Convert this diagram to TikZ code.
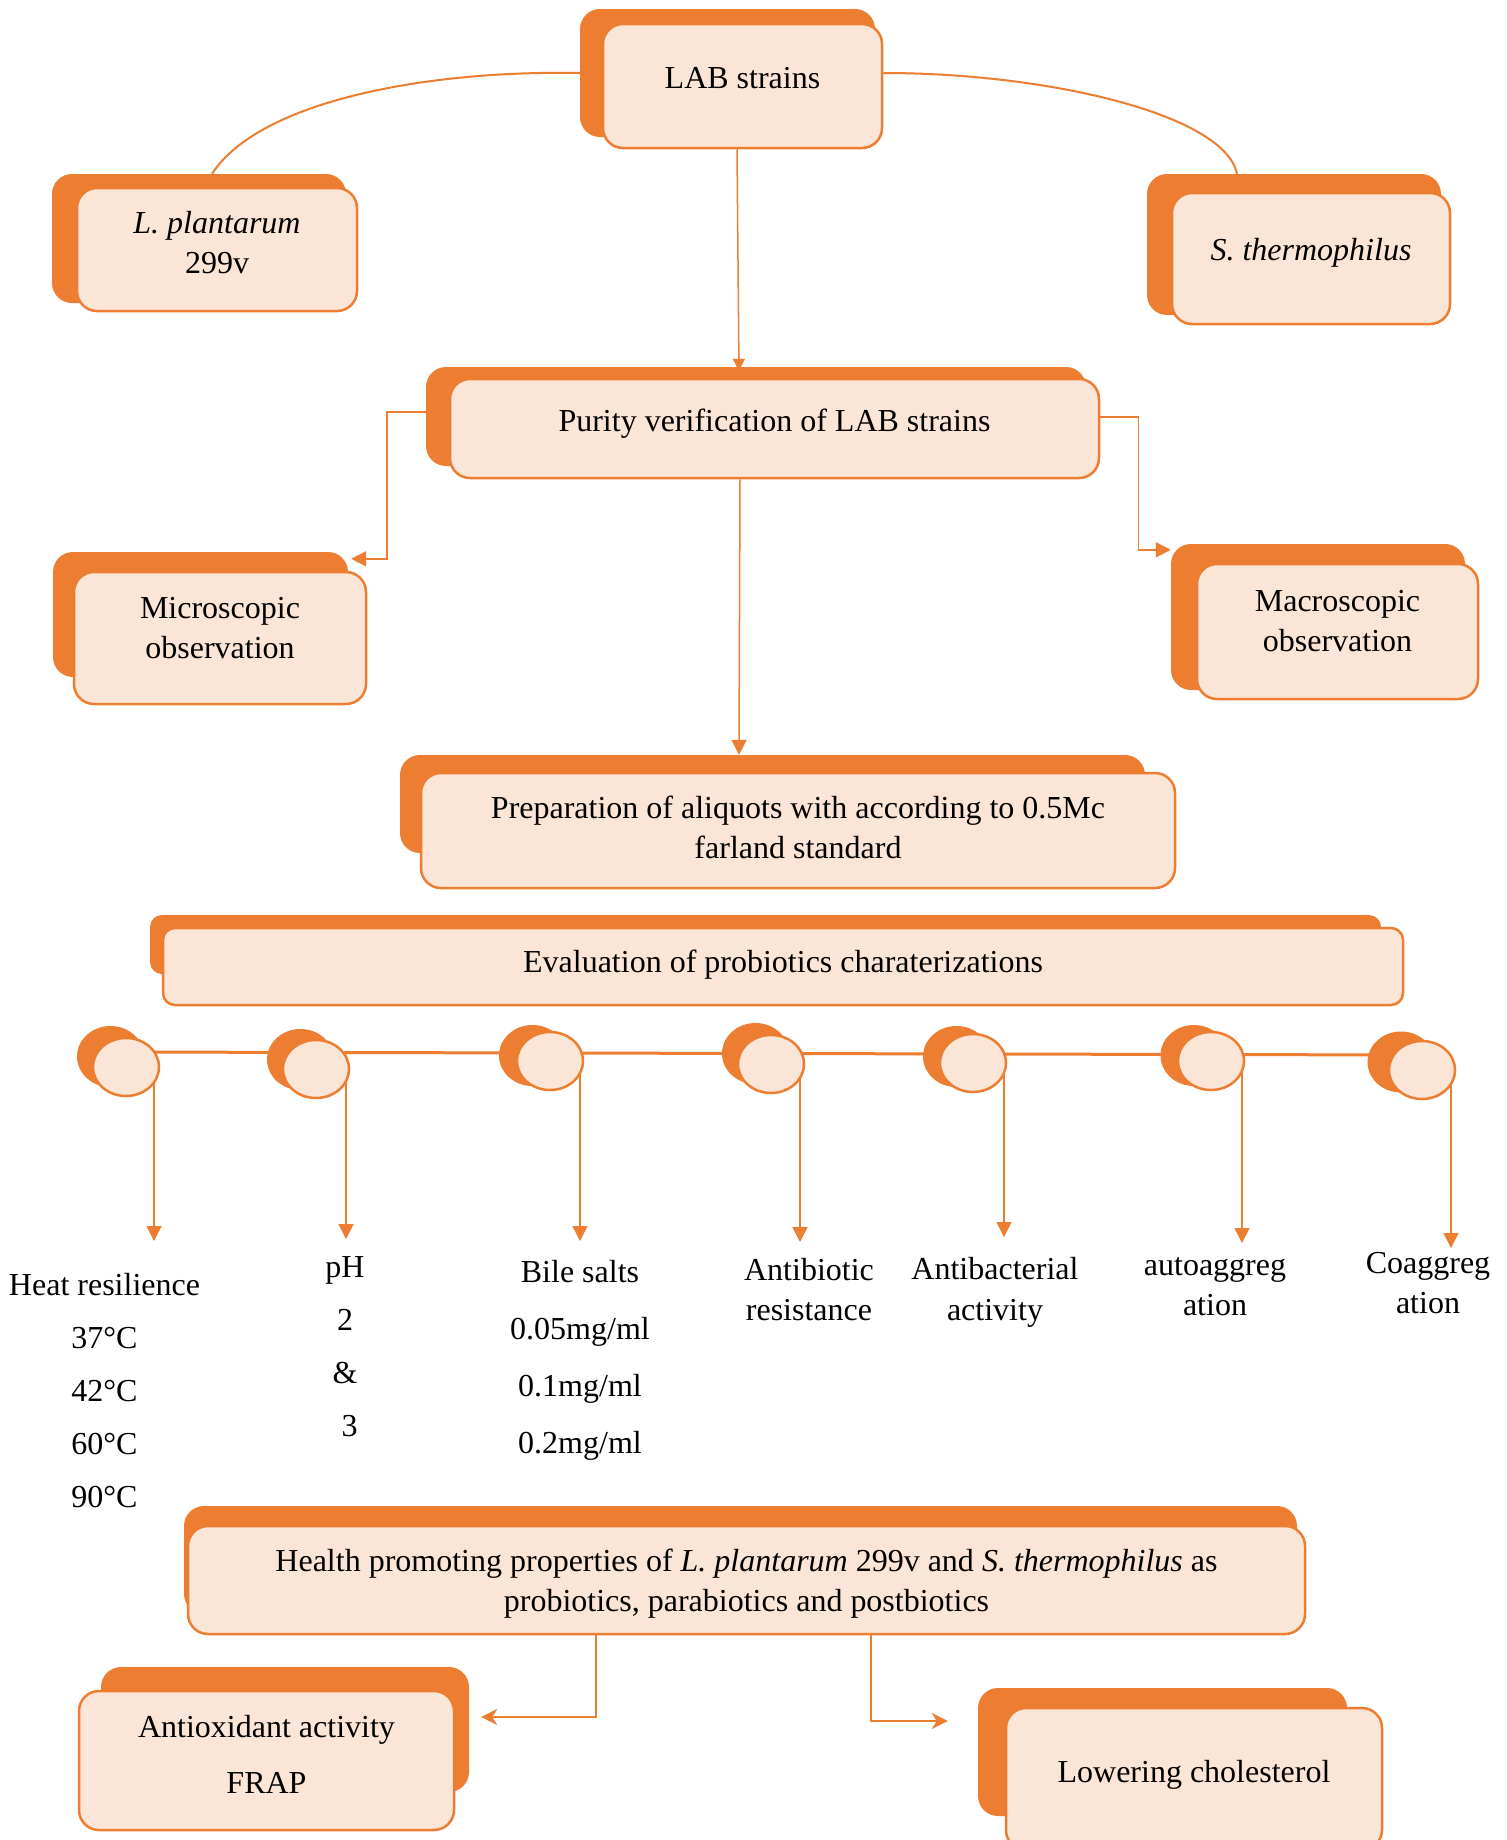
\documentclass[tikz,border=0pt]{standalone}
\usepackage{fontspec}
\setmainfont{Liberation Serif}
\usetikzlibrary{arrows.meta,shapes.geometric,backgrounds,calc}
\definecolor{org}{HTML}{ED7D31}
\definecolor{lite}{HTML}{FBE5D6}
\newcommand\bxt[2]{\raisebox{#1pt}[\height][\depth]{\begin{tabular}{@{}c@{}}#2\end{tabular}}}
\newcommand\lst[1]{\begin{tabular}[t]{@{}c@{}}#1\end{tabular}}
\tikzset{
  shbox/.style={fill=org, draw=none, rounded corners=20pt, inner sep=0pt},
  frbox/.style={fill=lite, draw=org, line width=2.5pt, rounded corners=20pt, inner sep=0pt, text=black, font=\fontsize{32}{40}\selectfont},
  shell/.style={ellipse, fill=org, draw=none, inner sep=0pt, minimum width=67pt, minimum height=61pt},
  frell/.style={ellipse, fill=lite, draw=org, line width=2.5pt, inner sep=0pt, minimum width=66pt, minimum height=58pt},
  conn/.style={draw=org, line width=1.5pt},
  thick conn/.style={draw=org, line width=2.2pt},
  tri/.style={-{Triangle[length=15pt,width=15pt]}},
  smalltri/.style={-{Triangle[length=12pt,width=12pt]}},
  stl/.style={-{Stealth[length=16pt,width=16pt,inset=5pt]}},
  lbl/.style={inner sep=0pt, anchor=base, text=black},
}
\begin{document}
\begin{tikzpicture}[x=1pt,y=-1pt]
\useasboundingbox (0,0) rectangle (1507,1840);
\clip (0,0) rectangle (1507,1840);

% ---------- boxes ----------
\node[shbox, minimum width=295pt, minimum height=128pt] (LABS) at (727.5,73) {};
\node[frbox, minimum width=279pt, minimum height=124pt] (LAB) at (742.5,86) {\bxt{6}{LAB strains}};

\node[shbox, minimum width=294pt, minimum height=129pt] (LpS) at (199,238.5) {};
\node[frbox, minimum width=280pt, minimum height=123pt] (Lp) at (217,249.5) {\bxt{4.5}{\textit{L. plantarum}\\299v}};

\node[shbox, minimum width=294pt, minimum height=141pt] (StS) at (1294,244.5) {};
\node[frbox, minimum width=278pt, minimum height=131pt] (St) at (1311,258.5) {\bxt{6.5}{\textit{S. thermophilus}}};

\node[shbox, minimum width=660pt, minimum height=99pt] (PurS) at (756,416.5) {};
\node[frbox, minimum width=649pt, minimum height=99pt] (Pur) at (774.5,428.5) {\bxt{5.5}{Purity verification of LAB strains}};

\node[shbox, minimum width=295pt, minimum height=125pt] (MicS) at (200.5,614.5) {};
\node[frbox, minimum width=292pt, minimum height=132pt] (Mic) at (220,638) {\bxt{8}{Microscopic\\observation}};

\node[shbox, minimum width=294pt, minimum height=146pt] (MacS) at (1318,617) {};
\node[frbox, minimum width=281pt, minimum height=135pt] (Mac) at (1337.5,631.5) {\bxt{8.5}{Macroscopic\\observation}};

\node[shbox, minimum width=745pt, minimum height=98pt] (PrpS) at (772.5,804) {};
\node[frbox, minimum width=754pt, minimum height=115pt] (Prp) at (798,830.5) {\bxt{0.5}{Preparation of aliquots with according to 0.5Mc\\farland standard}};

\node[shbox, rounded corners=12pt, minimum width=1231pt, minimum height=59pt] (EvS) at (765.5,944.5) {};
\node[frbox, rounded corners=12pt, minimum width=1240pt, minimum height=77pt] (Ev) at (783,966.5) {\bxt{2.5}{Evaluation of probiotics charaterizations}};

\node[shbox, minimum width=1113pt, minimum height=108pt] (HeS) at (740.5,1560) {};
\node[frbox, minimum width=1117pt, minimum height=108pt] (He) at (746.5,1580) {\bxt{-3}{Health promoting properties of \textit{L. plantarum} 299v and \textit{S. thermophilus} as\\probiotics, parabiotics and postbiotics}};

\node[shbox, minimum width=368pt, minimum height=125pt] (AxS) at (285,1729.5) {};
\node[frbox, minimum width=375pt, minimum height=139pt] (Ax) at (266.5,1760.5) {\bxt{3.5}{Antioxidant activity\\[16pt]FRAP}};

\node[shbox, minimum width=369pt, minimum height=128pt] (LwS) at (1162.5,1752) {};
\node[frbox, minimum width=376pt, minimum height=142pt] (Lw) at (1194,1779) {\bxt{5}{Lowering cholesterol}};

% ---------- circles ----------
\node[shell] (s1) at (110.5,1056.5) {};
\node[shell] (s2) at (300.5,1059.5) {};
\node[shell] (s3) at (532.5,1055.5) {};
\node[shell] (s4) at (755.5,1053.5) {};
\node[shell] (s5) at (956.5,1056.5) {};
\node[shell] (s6) at (1194,1055.5) {};
\node[shell] (s7) at (1401,1062) {};
\node[frell] (f1) at (126,1067) {};
\node[frell] (f2) at (316,1069) {};
\node[frell] (f3) at (550,1061) {};
\node[frell] (f4) at (771,1064) {};
\node[frell] (f5) at (973,1063) {};
\node[frell] (f6) at (1211,1061) {};
\node[frell] (f7) at (1422,1070) {};

% ---------- labels ----------
\node[lbl, font=\fontsize{32}{53}\selectfont] (heat) at (104.5,1295) {\lst{Heat resilience\\37°C\\42°C\\60°C\\90°C}};
\node[lbl, font=\fontsize{32}{53}\selectfont] (ph) at (345,1277) {\lst{pH\\2\\\&\\\hspace{9pt}3}};
\node[lbl, font=\fontsize{32}{57}\selectfont] (bile) at (580,1282) {\lst{Bile salts\\0.05mg/ml\\0.1mg/ml\\0.2mg/ml}};
\node[lbl, font=\fontsize{32}{40}\selectfont] (abio) at (809,1280) {\lst{Antibiotic\\resistance}};
\node[lbl, font=\fontsize{32}{41}\selectfont] (abac) at (995,1279) {\lst{Antibacterial\\activity}};
\node[lbl, font=\fontsize{32}{40}\selectfont] (auto) at (1215,1275) {\lst{autoaggreg\\ation}};
\node[lbl, font=\fontsize{32}{40}\selectfont] (coag) at (1428,1273) {\lst{Coaggreg\\ation}};

% arrow tips under circles
\coordinate (t1) at (154,1241);
\coordinate (t2) at (346,1239);
\coordinate (t3) at (580,1241);
\coordinate (t4) at (800,1242);
\coordinate (t5) at (1004,1237);
\coordinate (t6) at (1242,1243);
\coordinate (t7) at (1451,1248);
\coordinate (hl) at (126,1052);
\coordinate (hr) at (1422,1055);

% ---------- connectors (behind) ----------
\begin{scope}[on background layer]
\fill[white] (0,0) rectangle (1507,1840);
\draw[conn, line width=2pt] ([xshift=13pt]LpS.north) .. controls (260,100) and (430,70) .. (LABS.west);
\draw[conn, line width=2pt] ([yshift=13pt]LAB.east) .. controls (1050,73) and (1225,115) .. ([xshift=-57pt]StS.north);
\draw[conn, smalltri] ([xshift=-5.5pt]LAB.south) -- ([xshift=-17pt,yshift=-4pt]PurS.north);
\draw[conn, tri] ([yshift=4.5pt]PurS.west) -- ++(-39,0) |- ([xshift=3pt,yshift=-7pt]MicS.north east);
\draw[conn, tri] ([yshift=11.5pt]Pur.east) -- ++(38,0) |- ([yshift=-6pt]MacS.north west);
\draw[conn, tri] ([xshift=-34.5pt]Pur.south) -- ([xshift=-33.5pt]PrpS.north);
\draw[draw=org, line width=3pt] (hl) -- (hr);
\foreach \i in {1,...,7} {
  \draw[conn, tri] (t\i |- f\i.center) -- (t\i);
}
\draw[thick conn, stl] ([xshift=-150.5pt]He.south) |- ([xshift=12pt,yshift=12.5pt]AxS.east);
\draw[thick conn, stl] ([xshift=124.5pt]He.south) |- ([xshift=-30pt,yshift=31pt]LwS.west);
\end{scope}
\end{tikzpicture}
\end{document}
